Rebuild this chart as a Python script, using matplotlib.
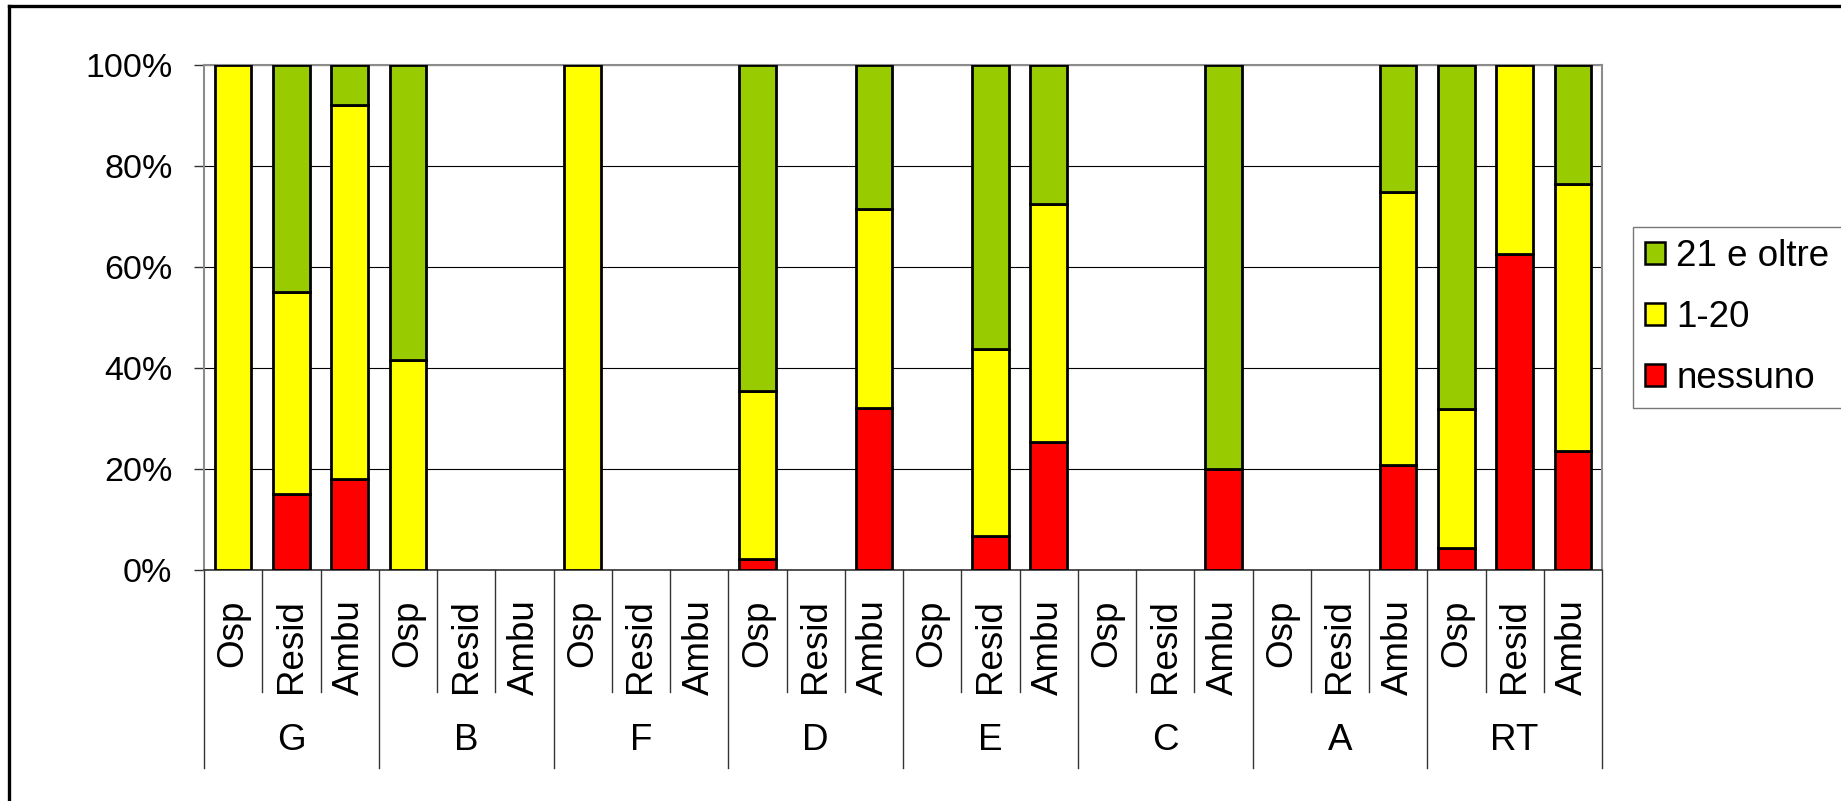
import numpy as np
import matplotlib
matplotlib.use("Agg")
import matplotlib.pyplot as plt
from matplotlib.ticker import PercentFormatter, MultipleLocator
from matplotlib.patches import Patch
from matplotlib.lines import Line2D

plt.rcParams['font.family'] = ['Liberation Sans', 'DejaVu Sans']

# Category structure: outer groups, each with three services
groups = ['G', 'B', 'F', 'D', 'E', 'C', 'A', 'RT']
services = ['Osp', 'Resid', 'Ambu']

# Percent shares per (group, service), in the order above
nessuno = [0, 15, 18,   0, 0, 0,   0, 0, 0,   2.2, 0, 32,
           0, 6.7, 25.3,   0, 0, 20,   0, 0, 20.8,   4.4, 62.5, 23.6]
da1a20 = [100, 40, 74,   41.5, 0, 0,   100, 0, 0,   33.2, 0, 39.5,
          0, 37.1, 47.1,   0, 0, 0,   0, 0, 54,   27.5, 37.5, 52.9]
oltre21 = [0, 45, 8,   58.5, 0, 0,   0, 0, 0,   64.6, 0, 28.5,
           0, 56.2, 27.6,   0, 0, 80,   0, 0, 25.2,   68.1, 0, 23.5]

series = [
    ('nessuno', nessuno, '#FF0000'),
    ('1-20', da1a20, '#FFFF00'),
    ('21 e oltre', oltre21, '#99CC00'),
]

W, H, DPI = 1841, 801, 100
fig = plt.figure(figsize=(W / DPI, H / DPI), dpi=DPI)
fig.patch.set_facecolor('white')

# plot area in pixel coordinates
px_left, px_right, px_top, px_bottom = 204, 1602, 65, 570
ax = fig.add_axes([px_left / W, 1 - px_bottom / H,
                   (px_right - px_left) / W, (px_bottom - px_top) / H])

n = len(groups) * len(services)
x = np.arange(n)
bottom = np.zeros(n)
handles = []
for name, vals, color in series:
    v = np.array(vals, dtype=float)
    m = v > 0
    ax.bar(x[m], v[m], width=0.63, bottom=bottom[m], color=color,
           edgecolor='black', linewidth=2.0, zorder=3)
    bottom += v
    handles.append(Patch(facecolor=color, edgecolor='black', linewidth=1.8, label=name))

ax.set_xlim(-0.5, n - 0.5)
ax.set_ylim(0, 100)
ax.yaxis.set_major_locator(MultipleLocator(20))
ax.yaxis.set_major_formatter(PercentFormatter(100, decimals=0))
ax.grid(axis='y', color='black', linewidth=0.8, zorder=0)
ax.set_axisbelow(True)

for side in ('top', 'right', 'left'):
    ax.spines[side].set_color('#8c8c8c')
    ax.spines[side].set_linewidth(1.5)
ax.spines['bottom'].set_color('#333333')
ax.spines['bottom'].set_linewidth(1.2)

ax.tick_params(axis='y', length=7.2, width=1.0, color='#333333',
               labelsize=24.5, pad=15.5)

# inner labels: services, rotated
label_size = 26.5
ax.set_xticks(x)
ax.set_xticklabels(services * len(groups), rotation=90, fontsize=label_size)
ax.tick_params(axis='x', length=0, pad=21)

# separators and group labels under the axis
ph = px_bottom - px_top
y_short = -(692 - px_bottom) / ph
y_long = -(768 - px_bottom) / ph
y_group = -(740 - px_bottom) / ph
tr = ax.get_xaxis_transform()
for k in range(n + 1):
    xb = k - 0.5
    y_end = y_long if k % len(services) == 0 else y_short
    ax.add_line(Line2D([xb, xb], [0, y_end], transform=tr, color='#333333',
                       linewidth=1.0, clip_on=False))
for g, name in enumerate(groups):
    xc = g * len(services) + 1
    ax.text(xc, y_group, name, transform=tr, ha='center', va='center',
            fontsize=label_size)

# legend, top entry first
leg = fig.legend(handles=handles[::-1], loc='upper left',
                 bbox_to_anchor=(1633 / W, 1 - 227 / H), fontsize=label_size,
                 frameon=True, fancybox=False, handlelength=0.55,
                 handleheight=0.55, handletextpad=0.3, labelspacing=0.7,
                 borderpad=0.33, borderaxespad=0)
leg.get_frame().set_edgecolor('#555555')
leg.get_frame().set_linewidth(1.0)

# outer chart frame (left and top edges)
fig.add_artist(Line2D([8.5 / W, 8.5 / W], [0, 1 - 6 / H], transform=fig.transFigure,
                      color='black', linewidth=2.4))
fig.add_artist(Line2D([8.5 / W, 1], [1 - 6 / H, 1 - 6 / H], transform=fig.transFigure,
                      color='black', linewidth=2.4))

fig.savefig('out.png', dpi=DPI)
